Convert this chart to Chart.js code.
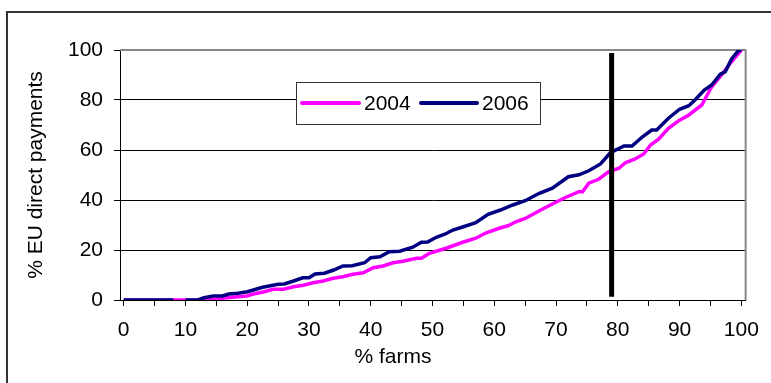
<!DOCTYPE html>
<html lang="en">
<head>
  <meta charset="UTF-8">
  <title>EU direct payments by farm share</title>
  <script src="https://cdn.jsdelivr.net/npm/chart.js"></script>
  <style>
    body {
      margin: 0;
      background: #fff;
    }
    #wrap {
      width: 771px;
      height: 383px;
    }
  </style>
</head>
<body>
  <div id="wrap"><canvas id="chart" width="771" height="383"></canvas></div>

  <script>
    // Cumulative share of payments (y) against cumulative share of farms (x)
    const farms2004 = [0, 13, 14.6, 16.7, 18.5, 19.9, 21, 22.6, 24.2, 25.9, 27.5, 29.1, 30.7, 32.3, 33.9, 35.5,
      37.1, 38.8, 40.4, 42, 43.6, 45.2, 47.4, 48.2, 49.5, 52.2, 54.9, 57, 58.7, 60.8, 62.2, 63.5, 65.1,
      67.3, 69.4, 71.6, 73.7, 74.3, 75.3, 76.9, 78.5, 80.2, 81.2, 82.8, 84.2, 85.3, 86.6, 88.2, 89.8,
      91.5, 93.6, 95.2, 96.8, 98.4, 100];
    const pay2004 = [0, 0, 0.2, 0.9, 1.3, 1.6, 2.4, 3.2, 4.3, 4.3, 5.3, 5.9, 6.9, 7.6, 8.7, 9.3,
      10.3, 10.9, 12.9, 13.6, 14.9, 15.5, 16.7, 16.7, 18.7, 20.7, 23.1, 24.7, 26.9, 28.7, 29.7, 31.3, 32.7,
      35.7, 38.4, 41.1, 43.3, 43.3, 46.7, 48.3, 51.3, 52.7, 54.9, 56.4, 58.4, 62, 64.3, 68.7, 71.6,
      74, 78, 85.3, 90, 95.3, 100];

    const farms2006 = [0, 8, 9, 10, 12, 13, 14.5, 16, 17, 18.5, 20, 21, 22.5, 25, 26, 27.5, 29, 30, 31, 32.5,
      34, 35.5, 37, 39, 40, 41.5, 43, 44.7, 46.8, 48.2, 49.2, 50.6, 52, 53.3, 55, 57, 59, 61, 63, 65,
      67.3, 69.4, 72, 73.7, 75.3, 77.2, 78.8, 81, 82.3, 84, 85.5, 86.3, 88.2, 90, 91.5, 92.5, 94, 95.2,
      96.6, 97.4, 98.4, 99.5, 100];
    const pay2006 = [0, 0, null, 0, 0, 0.9, 1.6, 1.6, 2.4, 2.7, 3.3, 4, 5.1, 6.3, 6.4, 7.6, 8.9, 8.9, 10.4, 10.7,
      12, 13.6, 13.7, 14.9, 16.9, 17.3, 19.3, 19.5, 21.1, 23.1, 23.2, 25.1, 26.3, 28, 29.3, 30.9, 34.3, 36, 38, 39.7,
      42.7, 44.7, 49.3, 50.1, 51.7, 54.4, 58.9, 61.6, 61.6, 65.3, 68, 68, 72.7, 76.3, 77.7, 80, 84, 86,
      90.3, 91.3, 96.3, 99.7, 100];

    // vertical marker
    const markerFarms = [79, 79];
    const markerPay = [1.3, 98.8];

    const seriesNames = ["2004", "2006"];
    const seriesColors = ["#FF00FF", "#000080"];

    const FONT = "Liberation Sans, Arial, sans-serif";
    const FONT_SIZE = 21;

    function toPoints(xs, ys) {
      return xs.map((x, i) => ({ x: x, y: ys[i] }));
    }

    Chart.defaults.color = "#000";
    Chart.defaults.font.family = FONT;
    Chart.defaults.font.size = FONT_SIZE;

    // frame, plot border, legend box and x title
    const decor = {
      id: "decor",
      beforeDraw(chart) {
        const c = chart.ctx;
        c.save();
        c.fillStyle = "#fff";
        c.fillRect(0, 0, chart.width, chart.height);
        c.strokeStyle = "#333";
        c.lineWidth = 2;
        c.beginPath();
        c.moveTo(7, chart.height);
        c.lineTo(7, 12);
        c.lineTo(chart.width, 12);
        c.stroke();
        c.restore();
      },
      beforeDatasetsDraw(chart) {
        const a = chart.chartArea;
        const c = chart.ctx;
        c.save();
        c.strokeStyle = "#888";
        c.lineWidth = 2;
        c.beginPath();
        c.moveTo(a.left, a.top);
        c.lineTo(a.right, a.top);
        c.lineTo(a.right, a.bottom);
        c.stroke();
        c.restore();
      },
      afterDraw(chart) {
        const c = chart.ctx;
        c.save();
        // legend
        const bx = 296, by = 82, bw = 244, bh = 42;
        c.fillStyle = "#fff";
        c.fillRect(bx, by, bw, bh);
        c.strokeStyle = "#333";
        c.lineWidth = 1;
        c.strokeRect(bx + 0.5, by + 0.5, bw, bh);
        const my = by + bh / 2;
        const items = [
          { x1: 302, x2: 359, tx: 364 },
          { x1: 421, x2: 477, tx: 482 }
        ];
        c.font = FONT_SIZE + "px " + FONT;
        c.textBaseline = "middle";
        c.textAlign = "left";
        items.forEach((it, i) => {
          c.strokeStyle = seriesColors[i];
          c.lineWidth = 4;
          c.lineCap = "round";
          c.beginPath();
          c.moveTo(it.x1, my);
          c.lineTo(it.x2, my);
          c.stroke();
          c.fillStyle = "#000";
          c.fillText(seriesNames[i], it.tx, my + 1);
        });
        // x axis title
        c.textAlign = "center";
        c.fillText("% farms", 393, 357);
        c.restore();
      }
    };

    const ctx = document.getElementById("chart").getContext("2d");
    const chart = new Chart(ctx, {
      type: "line",
      data: {
        datasets: [
          {
            label: "marker",
            data: toPoints(markerFarms, markerPay),
            borderColor: "#000",
            borderWidth: 5,
            borderCapStyle: "butt",
            pointRadius: 0
          },
          {
            label: seriesNames[1],
            data: toPoints(farms2006, pay2006),
            borderColor: seriesColors[1],
            borderWidth: 3.5,
            pointRadius: 0,
            tension: 0,
            spanGaps: false
          },
          {
            label: seriesNames[0],
            data: toPoints(farms2004, pay2004),
            borderColor: seriesColors[0],
            borderWidth: 3.5,
            pointRadius: 0,
            tension: 0
          }
        ]
      },
      options: {
        responsive: false,
        animation: false,
        layout: { padding: { left: 0, right: 23, top: 50, bottom: 0 } },
        plugins: {
          legend: { display: false },
          tooltip: { enabled: false }
        },
        scales: {
          x: {
            type: "linear",
            min: -0.6,
            max: 100.7,
            afterFit: s => { s.height = 83; },
            border: { color: "#000", width: 1 },
            grid: { drawOnChartArea: false, tickLength: 6, tickColor: "#000" },
            ticks: {
              stepSize: 5,
              includeBounds: false,
              padding: 12,
              maxRotation: 0,
              autoSkip: false,
              callback: v => (v % 10 === 0 ? v : "")
            }
          },
          y: {
            min: 0,
            max: 100,
            afterFit: s => { s.width = 120; },
            border: { color: "#000", width: 1 },
            grid: {
              color: c => (c.tick.value === 0 || c.tick.value === 100 ? "rgba(0,0,0,0)" : "#000"),
              lineWidth: 1,
              tickLength: 6,
              tickColor: "#000"
            },
            ticks: { stepSize: 20, padding: 11 },
            title: {
              display: true,
              text: "% EU direct payments",
              padding: { top: 24, bottom: 0 }
            }
          }
        }
      },
      plugins: [decor]
    });
  </script>
</body>
</html>
